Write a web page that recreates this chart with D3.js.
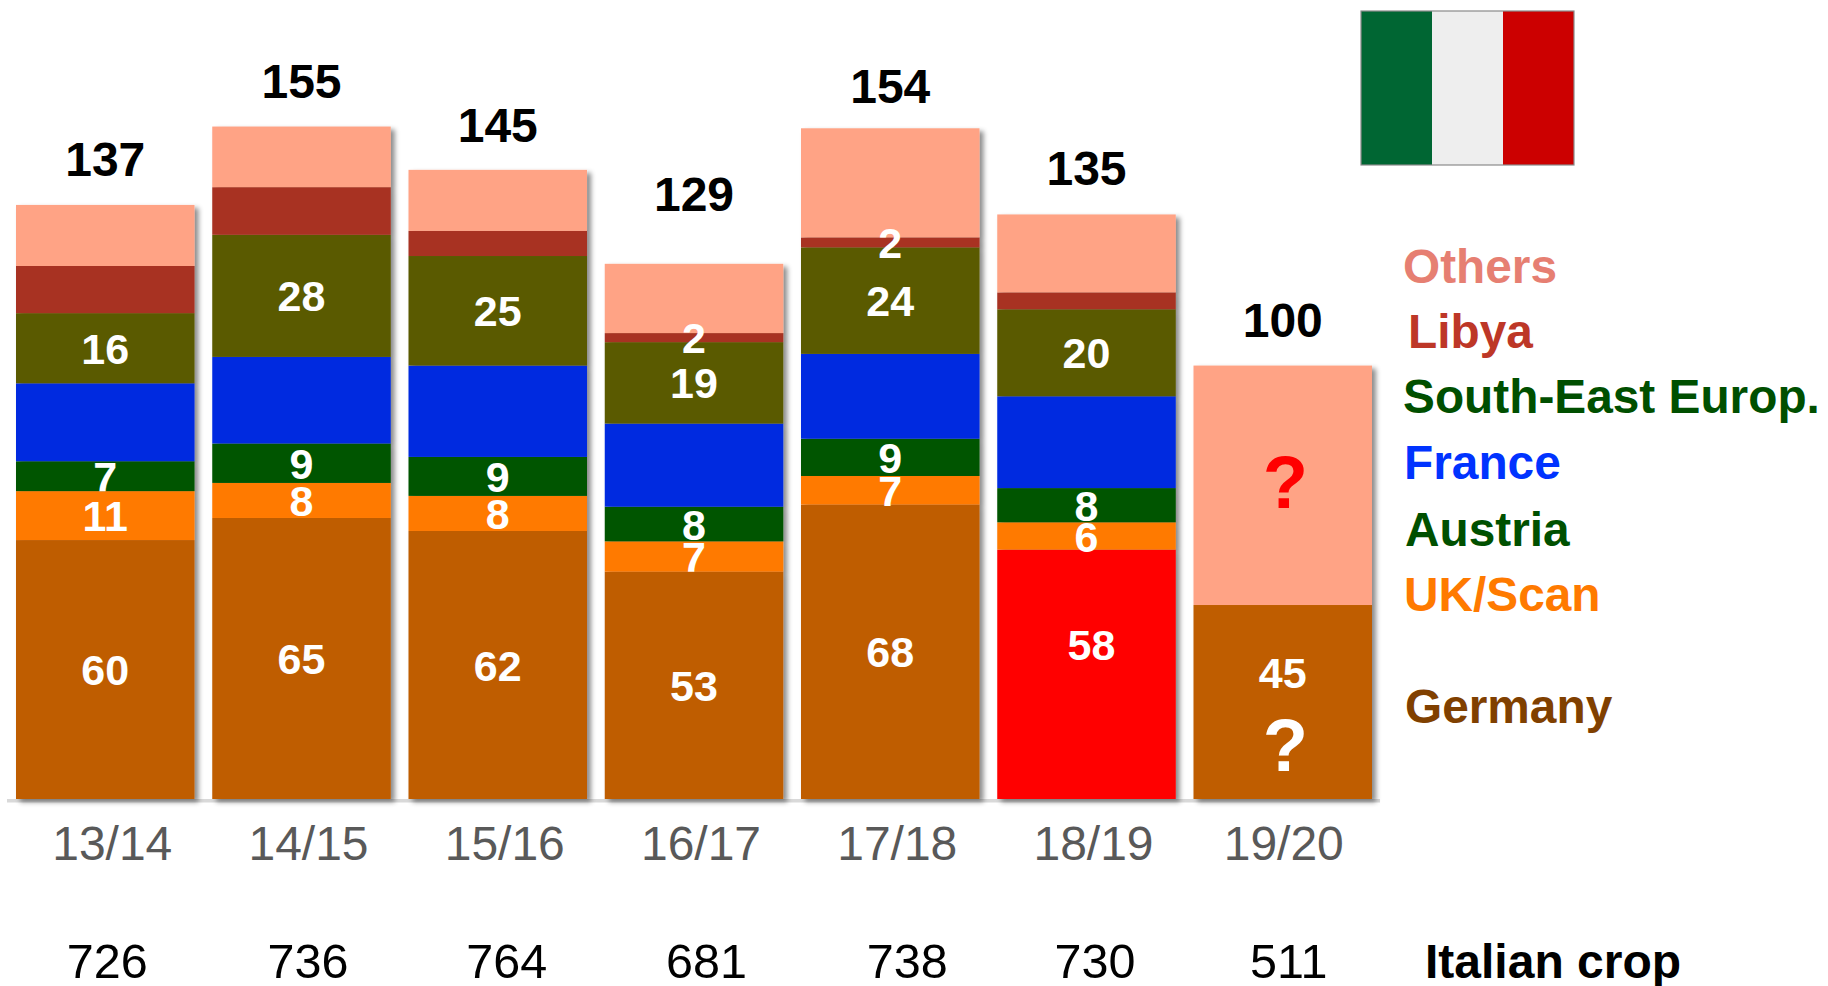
<!DOCTYPE html>
<html><head><meta charset="utf-8">
<style>html,body{margin:0;padding:0;background:#fff;overflow:hidden}svg{display:block}text{font-family:"Liberation Sans",Arial,sans-serif}</style>
<script src="https://cdn.jsdelivr.net/npm/d3@7/dist/d3.min.js"></script>
</head><body><svg id="c" width="1828" height="986"></svg>
<script>
const seasons=["13/14","14/15","15/16","16/17","17/18","18/19","19/20"];
const totals=[137,155,145,129,154,135,100];
const crop=[726,736,764,681,738,730,511];
const seriesNames=["Germany","UK/Scan","Austria","France","South-East Europ.","Libya","Others"];
// segment heights as drawn
const germany=[59.8,64.9,61.9,52.5,68,57.6,44.8];
const ukScan=[11.3,8.1,8.1,7,6.6,6.3,0];
const austria=[6.9,9.1,9,8,8.6,7.9,0];
const france=[18,20,21.1,19.2,19.6,21.2,0];
const southEast=[16.2,28.2,25.3,18.8,24.6,20.1,0];
const libya=[10.9,11,5.8,2.1,2.3,3.9,0];
const others=[14.1,14,14.1,16,25.2,18,55.3];
// printed value labels
const germanyLabels=[60,65,62,53,68,58,45];
const ukLabels=[11,8,8,7,7,6,null];
const austriaLabels=[7,9,9,8,9,8,null];
const southEastLabels=[16,28,25,19,24,20,null];
const libyaLabels=[null,null,null,2,2,null,null];
const segColors=["#BF5D00","#FF7A00","#005500","#002BE0","#5A5A00","#A83220","#FFA385"];
const legendNames=["Others","Libya","South-East Europ.","France","Austria","UK/Scan","Germany"];
const legendColors=["#E67F72","#BD3727","#004F00","#0033FF","#005000","#FF7A00","#804000"];
const legendX=[1403,1408,1403,1404,1405,1404,1405];
const legendY=[282.5,347.5,412.5,478.8,545.5,611,722.5];
const catNudge=[7,7,7,7,7,7,1];
const cropNudge=[2,6.5,9,12.5,17,8.5,6];

const svg=d3.select("#c");
const baseY=799;
const x=d3.scaleBand().domain(seasons).range([16,1372]).paddingInner(0.0904);
const y=d3.scaleLinear().domain([0,100]).range([baseY,baseY-433]);
const rows=seasons.map((s,i)=>{
  const r={season:s};
  [germany,ukScan,austria,france,southEast,libya,others].forEach((a,k)=>r[seriesNames[k]]=a[i]);
  return r;
});
const stacked=d3.stack().keys(seriesNames)(rows);
const defs=svg.append("defs");
const f=defs.append("filter").attr("id","sh").attr("x","-10%").attr("y","-10%").attr("width","125%").attr("height","125%");
f.append("feDropShadow").attr("dx",4).attr("dy",3).attr("stdDeviation",2.5).attr("flood-color","#000").attr("flood-opacity",0.45);

// baseline
svg.append("rect").attr("x",x.range()[0]-9).attr("y",baseY).attr("width",x.range()[1]-x.range()[0]+17).attr("height",3.5).attr("fill","#d9d9d9");

// bars: one shadowed group per season
const cols=svg.append("g").selectAll("g").data(seasons).join("g").attr("filter","url(#sh)");
cols.selectAll("rect").data((s,i)=>stacked.map((st,k)=>({k,i,s,d:st[i]})).filter(o=>o.d[1]>o.d[0])).join("rect")
  .attr("x",o=>x(o.s)).attr("width",x.bandwidth())
  .attr("y",o=>y(o.d[1])).attr("height",o=>y(o.d[0])-y(o.d[1]))
  .attr("fill",o=>(o.k===0&&o.s==="18/19")?"#FF0000":segColors[o.k]);

// Italian flag
const flagColors=["#006633","#EEEEEE","#CC0000"];
const flagX=d3.scaleBand().domain([0,1,2]).range([1361,1574]);
svg.append("g").selectAll("rect").data(flagColors).join("rect")
  .attr("x",(d,i)=>flagX(i)).attr("y",11).attr("width",flagX.bandwidth()).attr("height",154).attr("fill",d=>d);
svg.append("rect").attr("x",1361).attr("y",11).attr("width",213).attr("height",154).attr("fill","none").attr("stroke","#8a8a8a").attr("stroke-width",1.2);

// value labels
const labelSets=[germanyLabels,ukLabels,austriaLabels,null,southEastLabels,libyaLabels,null];
const clippedLabels=[[2,0],[1,3]]; // [series, season] labels hidden below their own segment in the reference
const lab=[];
labelSets.forEach((set,k)=>{ if(!set) return;
  set.forEach((v,i)=>{ if(v==null) return;
    const d=stacked[k][i];
    let yy=y((d[0]+d[1])/2)+0.5, xx=x(seasons[i])+x.bandwidth()/2;
    if(k===0&&i===5){yy=y(35.5);xx+=5;}
    if(k===0&&i===6){yy=y(29);}
    const clip=clippedLabels.some(c=>c[0]===k&&c[1]===i);
    if(clip){
      defs.append("clipPath").attr("id",`cl${k}-${i}`).append("rect")
        .attr("x",x(seasons[i])).attr("width",x.bandwidth()).attr("y",y(d[1])-20).attr("height",y(d[0])-y(d[1])+20);
    }
    lab.push({v,xx,yy,k,i,clip});
  });
});
svg.append("g").selectAll("text").data(lab).join("text")
  .attr("x",d=>d.xx).attr("y",d=>d.yy).attr("dy","0.35em").attr("text-anchor","middle")
  .attr("clip-path",d=>d.clip?`url(#cl${d.k}-${d.i})`:null)
  .attr("font-size",43).attr("font-weight",700).attr("fill","#fff").text(d=>d.v);

// totals
svg.append("g").selectAll("text").data(totals).join("text")
  .attr("x",(d,i)=>x(seasons[i])+x.bandwidth()/2).attr("y",d=>y(d)-29.5)
  .attr("text-anchor","middle").attr("font-size",48).attr("font-weight",700).attr("fill","#000").text(d=>d);

// season axis
const ax=svg.append("g").attr("transform",`translate(0,${baseY})`).call(d3.axisBottom(x).tickSize(0));
ax.select(".domain").remove();
ax.selectAll("text").attr("y",0).attr("dy",61).attr("dx",(d,i)=>catNudge[i])
  .attr("font-size",48).attr("fill","#595959").style("font-family",'"Liberation Sans",Arial,sans-serif');

// crop row
svg.append("g").selectAll("text").data(crop).join("text")
  .attr("x",(d,i)=>x(seasons[i])+x.bandwidth()/2+cropNudge[i]).attr("y",978)
  .attr("text-anchor","middle").attr("font-size",48.5).attr("fill","#000").text(d=>d);
svg.append("text").attr("x",1425).attr("y",978).attr("font-size",48).attr("font-weight",700).attr("fill","#000").text("Italian crop");

// legend
svg.append("g").selectAll("text").data(legendNames).join("text")
  .attr("x",(d,i)=>legendX[i]).attr("y",(d,i)=>legendY[i]).attr("font-size",47.8).attr("font-weight",700)
  .attr("fill",(d,i)=>legendColors[i]).text(d=>d);

// question marks
const qMarks=[{c:"#FF0000",v:67.2},{c:"#FFFFFF",v:6.5}];
svg.append("g").selectAll("text").data(qMarks).join("text")
  .attr("x",x("19/20")+x.bandwidth()/2+2.5).attr("y",d=>y(d.v)).attr("text-anchor","middle")
  .attr("font-size",74).attr("font-weight",700).attr("fill",d=>d.c).text("?");
</script></body></html>
